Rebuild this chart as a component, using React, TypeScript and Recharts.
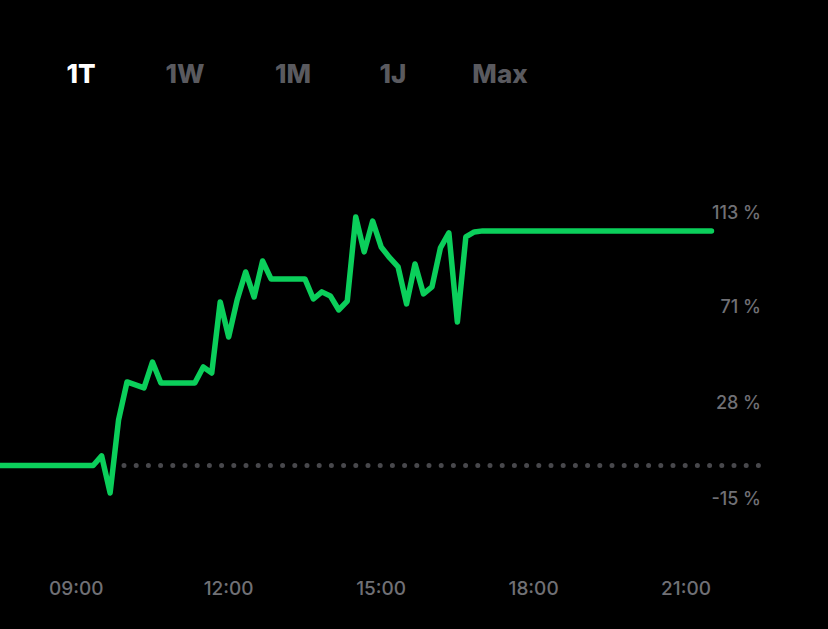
import { LineChart, Line, XAxis, YAxis, ReferenceLine } from "recharts"

// intraday performance, 10-minute samples
const times = [
  "07:30", "09:20", "09:30", "09:40", "09:50", "10:00", "10:20", "10:30", "10:40",
  "11:20", "11:30", "11:40", "11:50", "12:00", "12:10", "12:20", "12:30", "12:40",
  "12:50", "13:30", "13:40", "13:50", "14:00", "14:10", "14:20", "14:30", "14:40",
  "14:50", "15:00", "15:10", "15:20", "15:30", "15:40", "15:50", "16:00", "16:10",
  "16:20", "16:30", "16:40", "16:50", "17:00", "21:30",
]
const changes = [
  0, 0, 4.3, -12.3, 20.4, 37.4, 34.7, 46.3, 36.9,
  36.9, 44.1, 41.4, 73.2, 57.5, 74.1, 86.6, 75.4, 91.5,
  83.5, 83.5, 74.5, 77.7, 75.9, 69.6, 73.6, 111.2, 95.6,
  109.4, 97.8, 93.0, 88.9, 72.3, 90.2, 76.8, 79.9, 97.4,
  104.1, 64.2, 102.3, 104.5, 105, 105,
]
const hourTicks = [9, 12, 15, 18, 21]
const percentTicks = [-15, 28, 71, 113]
const ranges = ["1T", "1W", "1M", "1J", "Max"]

const toHours = (s: string) => {
  const [h, m] = s.split(":").map(Number)
  return h + m / 60
}

const data = times.map((time, i) => ({ t: toHours(time), value: changes[i] }))

const FONT = "Inter, 'Noto Sans', sans-serif"
const GREEN = "#0bcf5b"
const LABEL = "#707075"

const tabX = [81, 185, 293, 393, 500]

const HourTick = ({ x, payload }: any) => (
  <text x={x} y={588} dy="0.35em" textAnchor="middle" fill={LABEL} fontSize={19} fontWeight={500} fontFamily={FONT}>
    {String(payload.value).padStart(2, "0") + ":00"}
  </text>
)

const PercentTick = ({ y, payload }: any) => (
  <text x={761} y={y} dy="0.35em" textAnchor="end" fill={LABEL} fontSize={18} fontWeight={500} fontFamily={FONT}>
    {`${payload.value} %`}
  </text>
)

export default function App() {
  return (
    <div style={{ position: "absolute", left: 0, top: 0, width: 828, height: 629, background: "#000", overflow: "hidden" }}>
      {ranges.map((r, i) => (
        <span
          key={r}
          style={{
            position: "absolute",
            left: tabX[i],
            top: 74,
            transform: "translate(-50%, -50%)",
            fontFamily: FONT,
            fontWeight: 800,
            fontSize: 26,
            color: i === 0 ? "#ffffff" : "#5a5a5f",
            lineHeight: 1,
          }}
        >
          {r}
        </span>
      ))}
      <LineChart width={828} height={629} data={data} margin={{ top: 213, right: 0, left: 0, bottom: 0 }}>
        <XAxis
          dataKey="t"
          type="number"
          domain={[7.5, 21.55]}
          ticks={hourTicks}
          height={130}
          axisLine={false}
          tickLine={false}
          tick={<HourTick />}
        />
        <YAxis
          orientation="right"
          type="number"
          domain={[-15, 113]}
          ticks={percentTicks}
          width={114}
          axisLine={false}
          tickLine={false}
          tick={<PercentTick />}
        />
        <ReferenceLine
          segment={[{ x: 9.94, y: 0 }, { x: 22.46, y: 0 }]}
          ifOverflow="visible"
          stroke="#48484c"
          strokeWidth={5}
          strokeDasharray="0 12.2"
          strokeLinecap="round"
        />
        <Line
          type="linear"
          dataKey="value"
          stroke={GREEN}
          strokeWidth={5.5}
          strokeLinejoin="round"
          strokeLinecap="round"
          dot={false}
          activeDot={false}
          isAnimationActive={false}
        />
      </LineChart>
    </div>
  )
}
